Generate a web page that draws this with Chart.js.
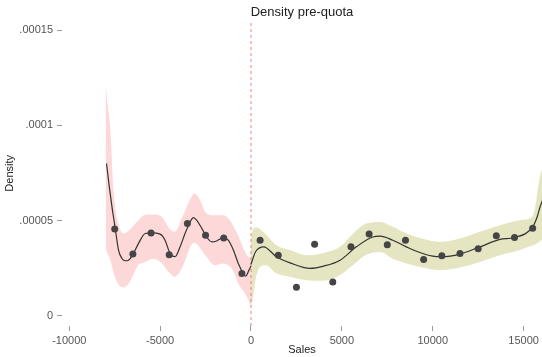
<!DOCTYPE html>
<html>
<head>
<meta charset="utf-8">
<script src="https://cdn.jsdelivr.net/npm/chart.js@4/dist/chart.umd.min.js"></script>
<style>
  html, body { margin: 0; padding: 0; background: #ffffff; }
  canvas { display: block; }
</style>
</head>
<body>
<canvas id="c" width="542" height="357"></canvas>
<script>
// Binned density (bin centres, 1000-wide bins)
const binX = [-7500, -6500, -5500, -4500, -3500, -2500, -1500, -500,
              500, 1500, 2500, 3500, 4500, 5500, 6500, 7500, 8500, 9500,
              10500, 11500, 12500, 13500, 14500, 15500];
const binDensity = [4.56e-5, 3.24e-5, 4.35e-5, 3.20e-5, 4.85e-5, 4.23e-5, 4.09e-5, 2.22e-5,
                    3.96e-5, 3.18e-5, 1.49e-5, 3.75e-5, 1.77e-5, 3.62e-5, 4.29e-5, 3.73e-5, 3.97e-5, 2.95e-5,
                    3.15e-5, 3.27e-5, 3.52e-5, 4.20e-5, 4.11e-5, 4.60e-5];

// Smoothed density below the quota
const fitLeftX = [-7950, -7800, -7650, -7470, -7290, -7100, -6920, -6740, -6470, -6190,
                  -5820, -5460, -5000, -4730, -4450, -4180, -3900, -3630, -3350, -3170,
                  -2990, -2710, -2440, -2160, -1890, -1520, -1250, -970, -700, -420,
                  -290, -110, 0];
const fitLeftY = [8.0e-5, 6.8e-5, 5.72e-5, 4.59e-5, 3.45e-5, 3.01e-5, 2.89e-5, 2.92e-5, 3.27e-5, 3.80e-5,
                  4.32e-5, 4.35e-5, 4.29e-5, 3.97e-5, 3.27e-5, 3.10e-5, 3.62e-5, 4.32e-5, 4.93e-5, 5.16e-5,
                  5.02e-5, 4.59e-5, 4.14e-5, 3.88e-5, 3.93e-5, 4.11e-5, 3.97e-5, 3.45e-5, 2.75e-5, 2.22e-5,
                  2.08e-5, 2.40e-5, 2.61e-5];

// Smoothed density above the quota
const fitRightX = [0, 250, 700, 1400, 2150, 3250, 4000, 4900, 5800, 6700, 7100, 7800,
                   8550, 9100, 10000, 10500, 11500, 12600, 13700, 14500, 15500, 15750, 15900, 16050];
const fitRightY = [2.7e-5, 3.36e-5, 3.62e-5, 3.10e-5, 2.78e-5, 2.49e-5, 2.61e-5, 2.92e-5, 3.62e-5, 4.14e-5, 4.18e-5, 3.97e-5,
                   3.62e-5, 3.39e-5, 3.13e-5, 3.10e-5, 3.24e-5, 3.62e-5, 4.01e-5, 4.11e-5, 4.67e-5, 5.2e-5, 5.7e-5, 6.1e-5];

// Confidence band below the quota
const bandLeftX = [-8000, -7900, -7750, -7550, -7300, -7000, -6750, -6450, -6200, -5900,
                   -5400, -4900, -4500, -4200, -3750, -3300, -3100, -2800, -2450, -2000,
                   -1500, -1150, -950, -700, -350, -150, 0];
const bandLeftHi = [1.23e-4, 1.12e-4, 9.9e-5, 6.4e-5, 4.85e-5, 4.32e-5, 4.45e-5, 4.76e-5, 5.0e-5, 5.28e-5,
                    5.32e-5, 5.19e-5, 4.6e-5, 4.41e-5, 5.25e-5, 6.2e-5, 6.42e-5, 6.07e-5, 5.37e-5, 5.28e-5,
                    5.28e-5, 5.0e-5, 4.67e-5, 4.2e-5, 3.4e-5, 3.1e-5, 3.0e-5];
const bandLeftLo = [3.54e-5, 3.3e-5, 2.95e-5, 2.2e-5, 1.65e-5, 1.48e-5, 1.65e-5, 2.2e-5, 2.66e-5, 2.8e-5,
                    3.0e-5, 2.75e-5, 2.27e-5, 2.05e-5, 2.6e-5, 3.7e-5, 3.83e-5, 3.55e-5, 3.1e-5, 2.66e-5,
                    2.75e-5, 2.57e-5, 2.3e-5, 1.7e-5, 1.2e-5, 8.5e-6, 4.7e-6];

// Confidence band above the quota
const bandRightX = [0, 100, 250, 500, 800, 1400, 2150, 3050, 4000, 4900, 5600, 6350, 7100, 7800,
                    8550, 9400, 10400, 11500, 12600, 13700, 14800, 15350, 15550, 15700, 15800, 15900, 16050];
const bandRightHi = [4.2e-5, 4.5e-5, 4.65e-5, 4.55e-5, 4.3e-5, 3.71e-5, 3.45e-5, 3.18e-5, 3.3e-5, 3.62e-5, 4.3e-5, 4.85e-5, 4.93e-5, 4.67e-5,
                     4.32e-5, 4.06e-5, 3.89e-5, 4.06e-5, 4.41e-5, 4.76e-5, 5.02e-5, 5.12e-5, 5.35e-5, 6.07e-5, 6.77e-5, 7.3e-5, 7.8e-5];
const bandRightLo = [5.0e-6, 9.0e-6, 1.9e-5, 2.57e-5, 2.65e-5, 2.22e-5, 2.05e-5, 1.87e-5, 1.84e-5, 2.14e-5, 2.65e-5, 3.2e-5, 3.35e-5, 3.0e-5,
                     2.75e-5, 2.55e-5, 2.4e-5, 2.54e-5, 2.83e-5, 3.18e-5, 3.45e-5, 3.65e-5, 3.71e-5, 3.78e-5, 3.85e-5, 3.92e-5, 4.0e-5];

// Axis ticks
const xTicks = [-10000, -5000, 0, 5000, 10000, 15000];
const yTicks = [0, 0.00005, 0.0001, 0.00015];
const yTickLabels = ['0', '.00005', '.0001', '.00015'];

const quotaX = 0;
const X_MIN = -10400, X_MAX = 16013;
const Y_MIN = -5.4e-6, Y_MAX = 1.551e-4;

const pts = (xs, ys) => xs.map((x, i) => ({ x: x, y: ys[i] }));
const FONT = '"Liberation Sans", Arial, Helvetica, sans-serif';

const PINK = 'rgb(253,216,216)';
const OLIVE = 'rgb(229,229,194)';

new Chart(document.getElementById('c'), {
  type: 'scatter',
  data: {
    datasets: [
      {
        label: 'bins',
        data: pts(binX, binDensity),
        showLine: false,
        pointRadius: 3.5,
        pointHoverRadius: 3.5,
        pointBackgroundColor: '#454545',
        pointBorderWidth: 0,
        order: 0
      },
      {
        label: 'fit below',
        data: pts(fitLeftX, fitLeftY),
        showLine: true,
        borderColor: '#333333',
        borderWidth: 1.2,
        pointRadius: 0,
        cubicInterpolationMode: 'monotone',
        fill: false,
        order: 1
      },
      {
        label: 'fit above',
        data: pts(fitRightX, fitRightY),
        showLine: true,
        borderColor: '#333333',
        borderWidth: 1.2,
        pointRadius: 0,
        cubicInterpolationMode: 'monotone',
        fill: false,
        order: 1
      },
      {
        label: 'quota',
        data: [{ x: quotaX, y: Y_MIN }, { x: quotaX, y: Y_MAX }],
        showLine: true,
        borderColor: 'rgb(236,128,128)',
        backgroundColor: 'rgb(236,128,128)',
        borderWidth: 1,
        borderDash: [3, 3],
        pointRadius: 0,
        fill: false,
        order: 2
      },
      {
        label: 'ci below hi',
        data: pts(bandLeftX, bandLeftHi),
        showLine: true,
        borderWidth: 0,
        borderColor: 'rgba(0,0,0,0)',
        backgroundColor: PINK,
        pointRadius: 0,
        cubicInterpolationMode: 'monotone',
        fill: '+1',
        order: 3
      },
      {
        label: 'ci below lo',
        data: pts(bandLeftX, bandLeftLo),
        showLine: true,
        borderWidth: 0,
        borderColor: 'rgba(0,0,0,0)',
        pointRadius: 0,
        cubicInterpolationMode: 'monotone',
        fill: false,
        order: 3
      },
      {
        label: 'ci above hi',
        data: pts(bandRightX, bandRightHi),
        showLine: true,
        borderWidth: 0,
        borderColor: 'rgba(0,0,0,0)',
        backgroundColor: OLIVE,
        pointRadius: 0,
        cubicInterpolationMode: 'monotone',
        fill: '+1',
        order: 4
      },
      {
        label: 'ci above lo',
        data: pts(bandRightX, bandRightLo),
        showLine: true,
        borderWidth: 0,
        borderColor: 'rgba(0,0,0,0)',
        pointRadius: 0,
        cubicInterpolationMode: 'monotone',
        fill: false,
        order: 4
      }
    ]
  },
  options: {
    responsive: false,
    animation: false,
    events: [],
    layout: { padding: 0, autoPadding: false },
    plugins: {
      legend: { display: false },
      tooltip: { enabled: false },
      title: {
        display: true,
        text: 'Density pre-quota',
        fullSize: false,
        color: '#222222',
        font: { family: FONT, size: 13, weight: 'normal' },
        padding: { top: 5, bottom: 0 }
      }
    },
    scales: {
      x: {
        type: 'linear',
        min: X_MIN,
        max: X_MAX,
        border: { display: false },
        grid: { display: true, drawOnChartArea: false, drawTicks: true, tickLength: 5, color: '#9a9a9a' },
        afterBuildTicks: s => { s.ticks = xTicks.map(v => ({ value: v })); },
        afterFit: s => { s.height = 31; s.paddingLeft = 0; s.paddingRight = 0; },
        ticks: {
          autoSkip: false,
          maxRotation: 0,
          padding: 3,
          color: '#555555',
          font: { family: FONT, size: 11 },
          callback: v => String(v)
        },
        title: {
          display: true,
          text: 'Sales',
          color: '#222222',
          font: { family: FONT, size: 11 },
          padding: { top: 0, bottom: 0 }
        }
      },
      y: {
        type: 'linear',
        min: Y_MIN,
        max: Y_MAX,
        border: { display: false },
        grid: { display: true, drawOnChartArea: false, drawTicks: true, tickLength: 5, color: '#9a9a9a' },
        afterBuildTicks: s => { s.ticks = yTicks.map(v => ({ value: v })); },
        afterFit: s => { s.width = 62; },
        ticks: {
          autoSkip: false,
          padding: 4,
          color: '#555555',
          font: { family: FONT, size: 11 },
          callback: (v, i) => yTickLabels[i]
        },
        title: {
          display: true,
          text: 'Density',
          color: '#222222',
          font: { family: FONT, size: 11 },
          padding: { top: 3, bottom: 0 }
        }
      }
    }
  }
});
</script>
</body>
</html>
